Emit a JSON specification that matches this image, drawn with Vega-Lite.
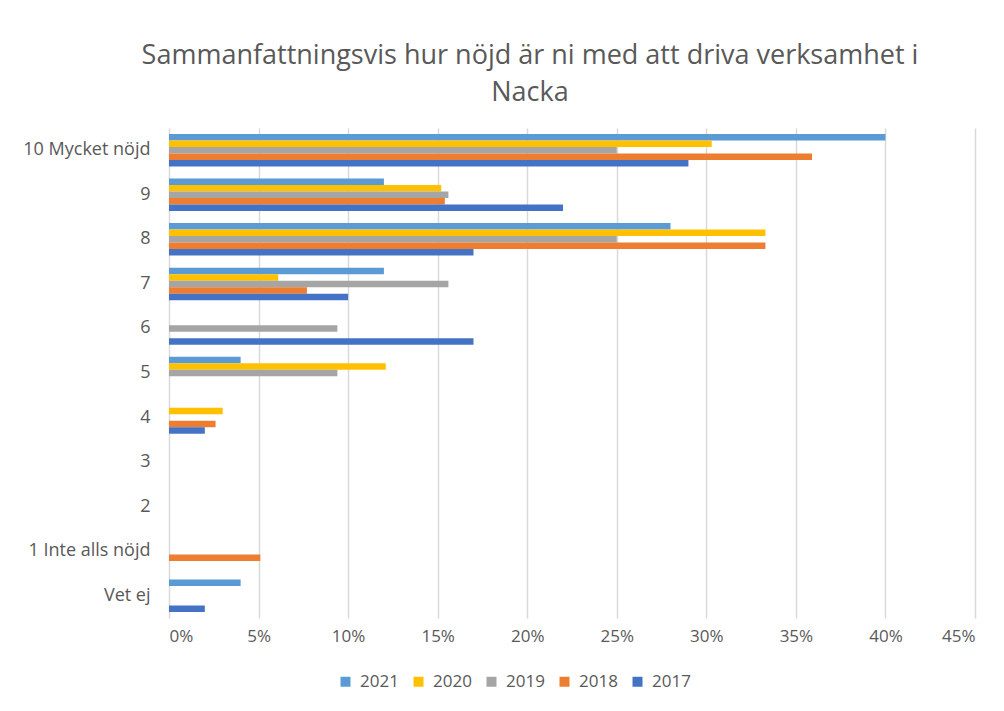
{
  "$schema": "https://vega.github.io/schema/vega-lite/v6.json",
  "width": 806,
  "height": 490,
  "autosize": {"type": "none"},
  "padding": {"left": 169, "top": 128, "right": 29, "bottom": 93},
  "background": "white",
  "title": {
    "text": ["Sammanfattningsvis hur nöjd är ni med att driva verksamhet i", "Nacka"],
    "anchor": "middle",
    "dx": -42,
    "offset": 21,
    "font": "Open Sans",
    "fontSize": 27,
    "fontWeight": "normal",
    "color": "#595959",
    "lineHeight": 37
  },
  "data": {
    "values": [
      {"kategori": "10 Mycket nöjd", "år": "2021", "andel": 0.40},
      {"kategori": "10 Mycket nöjd", "år": "2020", "andel": 0.303},
      {"kategori": "10 Mycket nöjd", "år": "2019", "andel": 0.25},
      {"kategori": "10 Mycket nöjd", "år": "2018", "andel": 0.359},
      {"kategori": "10 Mycket nöjd", "år": "2017", "andel": 0.29},
      {"kategori": "9", "år": "2021", "andel": 0.12},
      {"kategori": "9", "år": "2020", "andel": 0.152},
      {"kategori": "9", "år": "2019", "andel": 0.156},
      {"kategori": "9", "år": "2018", "andel": 0.154},
      {"kategori": "9", "år": "2017", "andel": 0.22},
      {"kategori": "8", "år": "2021", "andel": 0.28},
      {"kategori": "8", "år": "2020", "andel": 0.333},
      {"kategori": "8", "år": "2019", "andel": 0.25},
      {"kategori": "8", "år": "2018", "andel": 0.333},
      {"kategori": "8", "år": "2017", "andel": 0.17},
      {"kategori": "7", "år": "2021", "andel": 0.12},
      {"kategori": "7", "år": "2020", "andel": 0.061},
      {"kategori": "7", "år": "2019", "andel": 0.156},
      {"kategori": "7", "år": "2018", "andel": 0.077},
      {"kategori": "7", "år": "2017", "andel": 0.10},
      {"kategori": "6", "år": "2021", "andel": 0},
      {"kategori": "6", "år": "2020", "andel": 0},
      {"kategori": "6", "år": "2019", "andel": 0.094},
      {"kategori": "6", "år": "2018", "andel": 0},
      {"kategori": "6", "år": "2017", "andel": 0.17},
      {"kategori": "5", "år": "2021", "andel": 0.04},
      {"kategori": "5", "år": "2020", "andel": 0.121},
      {"kategori": "5", "år": "2019", "andel": 0.094},
      {"kategori": "5", "år": "2018", "andel": 0},
      {"kategori": "5", "år": "2017", "andel": 0},
      {"kategori": "4", "år": "2021", "andel": 0},
      {"kategori": "4", "år": "2020", "andel": 0.03},
      {"kategori": "4", "år": "2019", "andel": 0},
      {"kategori": "4", "år": "2018", "andel": 0.026},
      {"kategori": "4", "år": "2017", "andel": 0.02},
      {"kategori": "3", "år": "2021", "andel": 0},
      {"kategori": "2", "år": "2021", "andel": 0},
      {"kategori": "1 Inte alls nöjd", "år": "2021", "andel": 0},
      {"kategori": "1 Inte alls nöjd", "år": "2020", "andel": 0},
      {"kategori": "1 Inte alls nöjd", "år": "2019", "andel": 0},
      {"kategori": "1 Inte alls nöjd", "år": "2018", "andel": 0.051},
      {"kategori": "1 Inte alls nöjd", "år": "2017", "andel": 0},
      {"kategori": "Vet ej", "år": "2021", "andel": 0.04},
      {"kategori": "Vet ej", "år": "2020", "andel": 0},
      {"kategori": "Vet ej", "år": "2019", "andel": 0},
      {"kategori": "Vet ej", "år": "2018", "andel": 0},
      {"kategori": "Vet ej", "år": "2017", "andel": 0.02}
    ]
  },
  "mark": {"type": "bar", "cornerRadius": 0},
  "encoding": {
    "y": {
      "field": "kategori",
      "type": "nominal",
      "sort": ["10 Mycket nöjd", "9", "8", "7", "6", "5", "4", "3", "2", "1 Inte alls nöjd", "Vet ej"],
      "scale": {
        "domain": ["10 Mycket nöjd", "9", "8", "7", "6", "5", "4", "3", "2", "1 Inte alls nöjd", "Vet ej"],
        "paddingInner": 0.27,
        "paddingOuter": 0.135
      },
      "axis": {
        "title": null,
        "domain": false,
        "ticks": false,
        "grid": false,
        "labelPadding": 19,
        "labelFont": "Open Sans",
        "labelFontSize": 18,
        "labelColor": "#595959"
      }
    },
    "yOffset": {
      "field": "år",
      "type": "nominal",
      "sort": ["2021", "2020", "2019", "2018", "2017"],
      "scale": {"paddingInner": 0, "paddingOuter": 0}
    },
    "x": {
      "field": "andel",
      "type": "quantitative",
      "scale": {"domain": [0, 0.45], "nice": false, "zero": true},
      "axis": {
        "title": null,
        "format": ".0%",
        "values": [0, 0.05, 0.1, 0.15, 0.2, 0.25, 0.3, 0.35, 0.4, 0.45],
        "domain": false,
        "ticks": false,
        "grid": true,
        "gridColor": "#D9D9D9",
        "gridWidth": 1.5,
        "labelPadding": 10,
        "labelFont": "Open Sans",
        "labelFontSize": 17,
        "labelColor": "#595959"
      }
    },
    "color": {
      "field": "år",
      "type": "nominal",
      "sort": ["2021", "2020", "2019", "2018", "2017"],
      "scale": {
        "domain": ["2021", "2020", "2019", "2018", "2017"],
        "range": ["#5B9BD5", "#FFC000", "#A5A5A5", "#ED7D31", "#4472C4"]
      },
      "legend": {
        "title": null,
        "orient": "none",
        "direction": "horizontal",
        "legendX": 168,
        "legendY": 545,
        "symbolType": "square",
        "symbolSize": 100,
        "symbolStrokeWidth": 0,
        "labelFont": "Open Sans",
        "labelFontSize": 17,
        "labelColor": "#595959",
        "labelOffset": 6,
        "columnPadding": 11
      }
    }
  },
  "config": {
    "view": {"stroke": null}
  }
}
